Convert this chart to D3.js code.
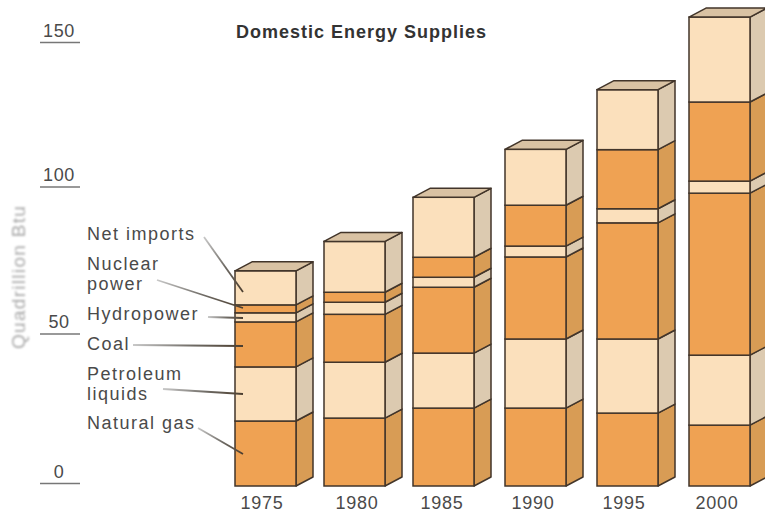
<!DOCTYPE html>
<html>
<head>
<meta charset="utf-8">
<script src="https://d3js.org/d3.v7.min.js"></script>
<style>
    html, body { margin: 0; padding: 0; background: #fff; }
    svg { display: block; }
    text { font-family: "Liberation Sans", sans-serif; fill: #4a4a4a; }
</style>
</head>
<body>
<div id="chart"></div>
<script>
const years = [1975, 1980, 1985, 1990, 1995, 2000];
const sources = ['Natural gas', 'Petroleum liquids', 'Coal', 'Hydropower', 'Nuclear power', 'Net imports'];
const naturalGas = [22.1, 23.1, 26.5, 26.5, 24.8, 20.7];
const petroleum = [18.4, 19.0, 18.7, 23.5, 25.2, 23.8];
const coal = [15.3, 16.3, 22.4, 27.9, 39.5, 55.1];
const hydropower = [3.1, 4.1, 3.4, 3.7, 4.8, 4.1];
const nuclear = [2.7, 3.4, 6.8, 13.9, 20.1, 26.9];
const netImports = [11.6, 17.3, 20.4, 19.0, 20.4, 28.9];
const yTicks = [0, 50, 100, 150];

const series = [naturalGas, petroleum, coal, hydropower, nuclear, netImports];

const width = 765, height = 514;
const barWidth = 61, depthX = 17, depthY = 9;

const svg = d3.select('#chart').append('svg')
    .attr('width', width)
    .attr('height', height);

// bars are not evenly spaced, so the scales are piecewise
const x = d3.scaleLinear().domain(years).range([235, 324, 413, 505, 597, 689]);
const xLabels = d3.scaleOrdinal().domain(years).range([262, 357, 442, 533, 624, 717]);
const y = d3.scaleLinear().domain([0, 150]).range([486, 45]);
const yAxisScale = d3.scaleLinear().domain(yTicks).range([483, 333.5, 186.5, 42]);

const colours = {
    orange: { front: '#efa253', side: '#d89c55' },
    cream: { front: '#fbe0bc', side: '#dccab0' }
};
const top_colour = '#d9c2a3';
const stroke = '#42352a';

// stack the sources bottom-up for each year
const stacked = d3.stack()
    .keys(d3.range(series.length))
    .value((yearIdx, s) => series[s][yearIdx])(d3.range(years.length));

const sideFace = (x1, y0, y1) => [
    [x1, y0], [x1 + depthX, y0 - depthY], [x1 + depthX, y1 - depthY], [x1, y1]
].join(' ');

const bars = svg.selectAll('g.bar').data(years).enter().append('g')
    .attr('class', 'bar');

bars.each(function(year, i) {
    const g = d3.select(this);
    const left = x(year), right = left + barWidth;
    const segments = stacked.map((layer, s) => ({
        y0: y(layer[i][0]),
        y1: y(layer[i][1]),
        tone: (s === 0 || s === 2 || s === 4) ? colours.orange : colours.cream
    }));

    g.selectAll('polygon.side').data(segments).enter().append('polygon')
        .attr('class', 'side')
        .attr('points', d => sideFace(right, d.y0, d.y1))
        .attr('fill', d => d.tone.side)
        .attr('stroke', stroke)
        .attr('stroke-width', 1.5)
        .attr('stroke-linejoin', 'round');

    g.selectAll('rect.front').data(segments).enter().append('rect')
        .attr('class', 'front')
        .attr('x', left)
        .attr('y', d => d.y1)
        .attr('width', barWidth)
        .attr('height', d => d.y0 - d.y1)
        .attr('fill', d => d.tone.front)
        .attr('stroke', stroke)
        .attr('stroke-width', 1.5);

    // lid of the column
    const topY = segments[segments.length - 1].y1;
    g.append('polygon')
        .attr('points', [
            [left, topY], [left + depthX, topY - depthY],
            [right + depthX, topY - depthY], [right, topY]
        ].join(' '))
        .attr('fill', top_colour)
        .attr('stroke', stroke)
        .attr('stroke-width', 1.5)
        .attr('stroke-linejoin', 'round');
});

// value axis: short rules with the number sitting on top
const yAxis = svg.append('g')
    .attr('transform', 'translate(80,0)')
    .call(d3.axisLeft(yAxisScale).tickValues(yTicks).tickSize(40).tickPadding(0));
yAxis.select('.domain').remove();
yAxis.selectAll('.tick line')
    .attr('stroke', '#777')
    .attr('stroke-width', 1.6);
yAxis.selectAll('.tick text')
    .attr('x', -21)
    .attr('y', -6)
    .attr('dy', 0)
    .attr('text-anchor', 'middle')
    .style('font-family', '"Liberation Sans", sans-serif')
    .style('font-size', '18px')
    .style('letter-spacing', '0.6px')
    .style('fill', '#4a4a4a');

// year labels
const xAxis = svg.append('g')
    .attr('transform', 'translate(0,497)');
xAxis.selectAll('text').data(years).enter().append('text')
    .attr('x', d => xLabels(d))
    .attr('y', 12)
    .attr('text-anchor', 'middle')
    .style('font-size', '18px')
    .style('letter-spacing', '0.8px')
    .text(d => d);

svg.append('text')
    .attr('x', 236)
    .attr('y', 38)
    .style('font-size', '18px')
    .style('font-weight', 'bold')
    .style('letter-spacing', '1px')
    .style('fill', '#333')
    .text('Domestic Energy Supplies');

svg.append('defs').append('filter')
    .attr('id', 'soft')
    .append('feGaussianBlur')
    .attr('stdDeviation', 0.8);

svg.append('text')
    .attr('transform', 'translate(25,349) rotate(-90)')
    .attr('filter', 'url(#soft)')
    .style('font-size', '19px')
    .style('letter-spacing', '1.3px')
    .style('fill', '#a8a8a8')
    .text('Quadrillion Btu');

// source labels on the left of the first column
const labelLines = [
    { source: 'Net imports', lines: [['Net imports', 240]] },
    { source: 'Nuclear power', lines: [['Nuclear', 270], ['power', 290]] },
    { source: 'Hydropower', lines: [['Hydropower', 320]] },
    { source: 'Coal', lines: [['Coal', 350]] },
    { source: 'Petroleum liquids', lines: [['Petroleum', 380], ['liquids', 400]] },
    { source: 'Natural gas', lines: [['Natural gas', 429]] }
];
labelLines.forEach(function(label) {
    label.lines.forEach(function(line) {
        svg.append('text')
            .attr('x', 87)
            .attr('y', line[1])
            .style('font-size', '18px')
            .style('letter-spacing', '1.5px')
            .text(line[0]);
    });
});

// leader lines fade out toward their label
const leaders = [
    [[204, 237], [243, 292]],
    [[157, 280], [243, 308]],
    [[208, 317], [243, 318]],
    [[133, 345], [243, 346]],
    [[163, 389], [243, 394]],
    [[198, 428], [243, 454]]
];
const defs = svg.select('defs');
leaders.forEach(function(pts, i) {
    const grad = defs.append('linearGradient')
        .attr('id', 'leader' + i)
        .attr('gradientUnits', 'userSpaceOnUse')
        .attr('x1', pts[0][0]).attr('y1', pts[0][1])
        .attr('x2', pts[1][0]).attr('y2', pts[1][1]);
    grad.append('stop').attr('offset', '0%').attr('stop-color', '#c8c8c8');
    grad.append('stop').attr('offset', '55%').attr('stop-color', '#6e6a64');
    grad.append('stop').attr('offset', '100%').attr('stop-color', '#4b3d2e');
    svg.append('path')
        .attr('d', d3.line()(pts))
        .attr('fill', 'none')
        .attr('stroke', 'url(#leader' + i + ')')
        .attr('stroke-width', 1.8);
});
</script>
</body>
</html>
